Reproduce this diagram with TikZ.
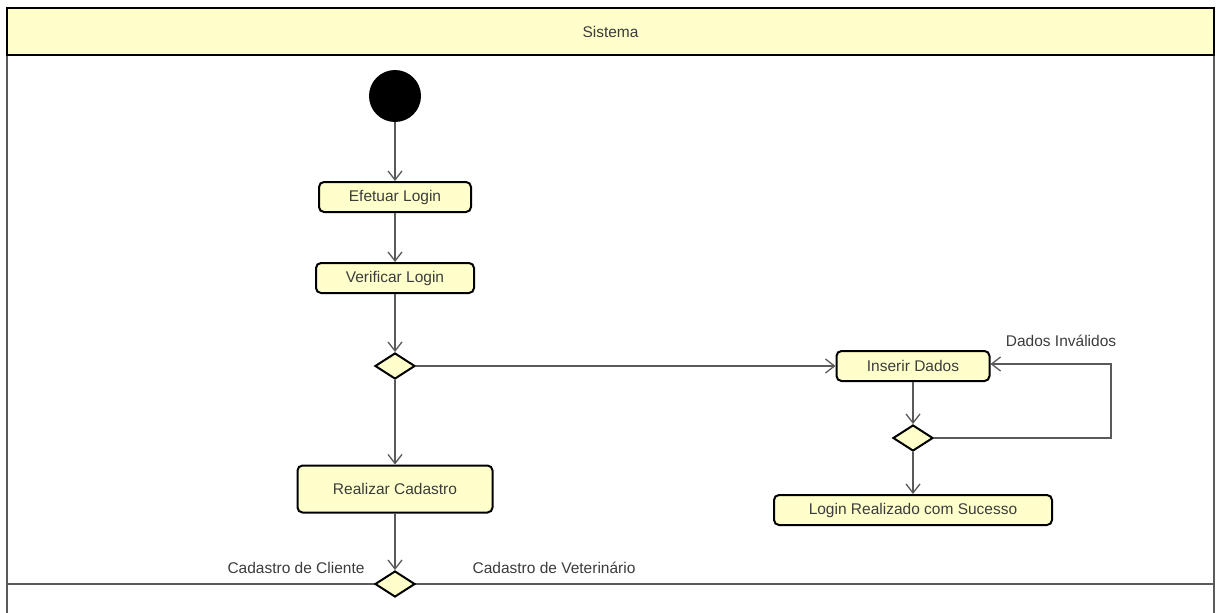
\documentclass[tikz,border=0pt]{standalone}
\usepackage{fontspec}
\setmainfont{Liberation Sans}
\usetikzlibrary{arrows.meta,shapes.geometric}
\definecolor{umlfill}{RGB}{255,255,204}
\definecolor{umltext}{RGB}{60,60,60}
\definecolor{umlline}{RGB}{90,90,90}
\tikzset{
  action/.style={draw=black, line width=2pt, fill=umlfill, rounded corners=5pt,
    minimum height=30pt, inner sep=0pt, text=umltext, font=\fontsize{15.5}{17}\selectfont},
  decision/.style={draw=black, line width=2pt, fill=umlfill, diamond, aspect=1.55,
    minimum width=40pt, minimum height=26pt, inner sep=0pt},
  flow/.style={draw=umlline, line width=1.3pt, -{Straight Barb[length=9pt,width=14pt,line width=1.3pt]}},
  plain/.style={draw=umlline, line width=1.3pt},
  lbl/.style={text=umltext, font=\fontsize{15.5}{17}\selectfont, inner sep=0pt}
}
\begin{document}
\begin{tikzpicture}[x=1pt,y=-1pt]
\useasboundingbox (0,0) rectangle (1216,613);
\fill[white] (0,0) rectangle (1216,613);
% lane
\draw[umlline, line width=1.3pt] (7,55) -- (7,620);
\draw[umlline, line width=1.3pt] (1214,55) -- (1214,620);
\draw[black, line width=2pt, fill=umlfill] (7,8) rectangle (1214,55);
\node[lbl] (lane) at (610.5,31.5) {Sistema};
% nodes
\node[circle, fill=black, minimum size=52pt, inner sep=0pt] (start) at (395,96) {};
\node[action, minimum width=152pt] (efetuar) at (395,197) {Efetuar Login};
\node[action, minimum width=158pt] (verificar) at (395,278) {Verificar Login};
\node[decision] (d1) at (395,366) {};
\node[action, minimum width=153pt] (inserir) at (913,366) {Inserir Dados};
\node[decision] (d2) at (913,438) {};
\node[action, minimum width=278pt] (sucesso) at (913,510) {Login Realizado com Sucesso};
\node[action, minimum width=195pt, minimum height=47pt] (cadastro) at (395,489) {Realizar Cadastro};
\coordinate (lend) at (7,584);
\coordinate (rend) at (1214,584);
\draw[plain] (lend) -- (rend);
\node[decision] (d3) at (395,584) {};
% edges
\draw[flow] (start) -- (efetuar);
\draw[flow] (efetuar) -- (verificar);
\draw[flow] (verificar) -- (d1);
\draw[flow] (d1) -- (inserir);
\draw[flow] (d1) -- (cadastro);
\draw[flow] (inserir) -- (d2);
\draw[flow] (d2) -- (sucesso);
\draw[flow] (cadastro) -- (d3);
\coordinate (lc1) at (1111,438);
\coordinate (lc2) at (1111,364);
\draw[flow] (d2.east) -- (lc1) -- (lc2) -- (inserir.east |- lc2);
% labels
\node[lbl] (inv) at (1061,341) {Dados Inválidos};
\node[lbl] (cli) at (296,568) {Cadastro de Cliente};
\node[lbl] (vet) at (554,568) {Cadastro de Veterinário};
\end{tikzpicture}
\end{document}
